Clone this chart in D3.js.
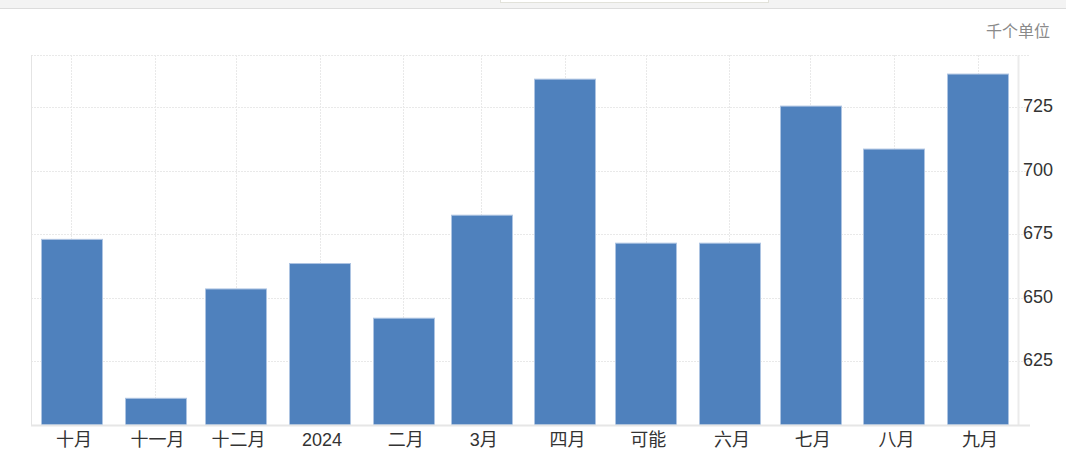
<!DOCTYPE html>
<html>
<head>
<meta charset="utf-8">
<script src="https://cdn.jsdelivr.net/npm/d3@7"></script>
<style>
  html, body { margin: 0; padding: 0; background: #fff; }
  svg { display: block; }
  text { font-family: "Liberation Sans", Arial, "Noto Sans CJK SC", sans-serif; }
</style>
</head>
<body>
<svg id="chart" width="1066" height="455"></svg>
<script>
// ---- data ----
const months = ["2023-10-01","2023-11-01","2023-12-01","2024-01-01","2024-02-01","2024-03-01",
                "2024-04-01","2024-05-01","2024-06-01","2024-07-01","2024-08-01","2024-09-01"];
const monthLabels = ["十月","十一月","十二月","2024","二月","3月","四月","可能","六月","七月","八月","九月"];
const values = [673, 610.5, 653.5, 663.5, 642, 682.5, 736, 671.5, 671.5, 725.4, 708.5, 738];
const yTicks = [625, 650, 675, 700, 725];
const unitLabel = "千个单位";

// ---- layout ----
const W = 1066, H = 455;
const plot = { left: 31, right: 1018, top: 55, bottom: 425 };
const parse = d3.utcParse("%Y-%m-%d");
const dates = months.map(parse);

const svg = d3.select("#chart");

// top browser-like strip
svg.append("rect").attr("x", 0).attr("y", 0).attr("width", W).attr("height", 8).attr("fill", "#f3f3f3");
svg.append("line").attr("x1", 0).attr("x2", W).attr("y1", 8.5).attr("y2", 8.5).attr("stroke", "#dcdcdc");
svg.append("rect").attr("x", 500.5).attr("y", -1).attr("width", 268).attr("height", 3.5)
   .attr("fill", "#fff").attr("stroke", "#e2e2da");

const x = d3.scaleUtc()
  .domain([parse("2023-09-16"), parse("2024-09-16")])
  .range([plot.left, plot.right]);
const y = d3.scaleLinear()
  .domain([600, 745.5])
  .range([plot.bottom, plot.top]);

const barW = 61;
const gridColor = "#e9e9e9";

// grid
const grid = svg.append("g");
grid.selectAll("line.h").data(yTicks).join("line")
  .attr("x1", plot.left).attr("x2", plot.right + 12)
  .attr("y1", d => Math.round(y(d)) + 0.5).attr("y2", d => Math.round(y(d)) + 0.5)
  .attr("stroke", gridColor).attr("stroke-dasharray", "2,1");
grid.append("line")
  .attr("x1", plot.left).attr("x2", plot.right + 12)
  .attr("y1", plot.top + 0.5).attr("y2", plot.top + 0.5)
  .attr("stroke", gridColor).attr("stroke-dasharray", "2,1");
grid.selectAll("line.v").data(dates).join("line")
  .attr("x1", d => Math.round(x(d)) + 0.5).attr("x2", d => Math.round(x(d)) + 0.5)
  .attr("y1", plot.top).attr("y2", plot.bottom)
  .attr("stroke", gridColor).attr("stroke-dasharray", "2,1");
grid.append("line")
  .attr("x1", plot.left + 0.5).attr("x2", plot.left + 0.5)
  .attr("y1", plot.top).attr("y2", plot.bottom)
  .attr("stroke", "#e4e4e4");
grid.append("line")
  .attr("x1", plot.right + 0.5).attr("x2", plot.right + 0.5)
  .attr("y1", plot.top).attr("y2", plot.bottom)
  .attr("stroke", "#ebebeb").attr("stroke-width", 2);

// bars
svg.append("g").selectAll("rect").data(values).join("rect")
  .attr("x", (d, i) => Math.round(x(dates[i]) - barW / 2) + 0.5)
  .attr("width", barW)
  .attr("y", d => y(d))
  .attr("height", d => y.range()[0] - y(d))
  .attr("fill", "#4f81bd")
  .attr("stroke", "#adc4e2")
  .attr("stroke-width", 1);

// bottom axis line
svg.append("line")
  .attr("x1", plot.left).attr("x2", plot.right + 12)
  .attr("y1", plot.bottom + 0.5).attr("y2", plot.bottom + 0.5)
  .attr("stroke", "#e6e6e6").attr("stroke-width", 2);

// x axis
const xAxis = d3.axisBottom(x)
  .tickValues(dates)
  .tickFormat((d, i) => monthLabels[i])
  .tickSize(0).tickPadding(0);
const gx = svg.append("g").attr("transform", `translate(2,${plot.bottom})`).call(xAxis);
gx.select(".domain").remove();
gx.selectAll("text")
  .attr("y", 21).attr("dy", 0)
  .attr("font-size", 18).attr("fill", "#333")
  .style("font-family", '"Liberation Sans", Arial, "Noto Sans CJK SC", sans-serif');

// y axis (right)
const yAxis = d3.axisRight(y).tickValues(yTicks).tickSize(0).tickPadding(0);
const gy = svg.append("g").attr("transform", `translate(1023,0)`).call(yAxis);
gy.select(".domain").remove();
gy.selectAll("text")
  .attr("x", 0).attr("dy", "0.25em")
  .attr("font-size", 18).attr("fill", "#333")
  .style("font-family", '"Liberation Sans", Arial, sans-serif');

// unit label
svg.append("text")
  .attr("x", 1050).attr("y", 37)
  .attr("text-anchor", "end")
  .attr("font-size", 16).attr("fill", "#8a8a8a")
  .text(unitLabel);
</script>
</body>
</html>
